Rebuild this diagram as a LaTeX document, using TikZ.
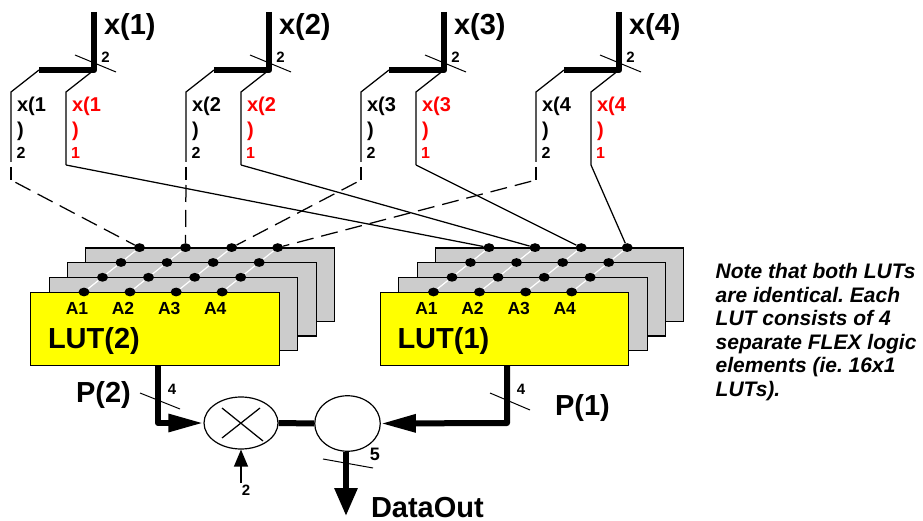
\documentclass[tikz,border=0pt]{standalone}
\usepackage{fontspec}
\setmainfont{Liberation Sans}
\usetikzlibrary{arrows.meta,shapes.geometric}
\definecolor{lutgrey}{HTML}{CCCCCC}
\definecolor{lutyellow}{HTML}{FFFF00}
\definecolor{sigred}{HTML}{FF0000}
\tikzset{
  thickbus/.style={line width=6.4pt,line join=round},
  wire/.style={line width=1.25pt,line join=miter},
  dashwire/.style={line width=1.25pt,dash pattern=on 17pt off 8pt,shorten <=5pt},
  tick/.style={line width=1pt},
  lbl/.style={inner sep=0pt,outer sep=0pt,font=\bfseries},
  big/.style={lbl,font=\fontsize{29}{29}\selectfont\bfseries},
  mid/.style={lbl,font=\fontsize{20}{25.5}\selectfont\bfseries,align=left,anchor=north west},
  small/.style={lbl,font=\fontsize{15}{15}\selectfont\bfseries},
  tiny/.style={lbl,font=\fontsize{16}{16}\selectfont\bfseries},
  addr/.style={lbl,font=\fontsize{17.5}{17.5}\selectfont\bfseries},
  dot/.style={ellipse,fill=black,minimum width=11pt,minimum height=8.8pt,inner sep=0pt},
  sheet/.style={draw=black,fill=lutgrey,line width=1.2pt},
  lut/.style={draw=black,fill=lutyellow,line width=1.2pt},
  op/.style={ellipse,draw=black,fill=white,line width=1.2pt,inner sep=0pt},
  bigtip/.style={-{Triangle[length=35pt,width=17pt]}},
}
\begin{document}
\frenchspacing
\begin{tikzpicture}[x=1pt,y=-1pt]
\useasboundingbox (0,0) rectangle (923,521);
% input buses
\foreach \i/\ox in {1/0,2/175,3/350,4/525}{
  \coordinate (top\i) at (94+\ox,12);
  \coordinate (cor\i) at (94+\ox,70);
  \coordinate (end\i) at (39+\ox,70);
  \coordinate (ta\i) at (75+\ox,55);
  \coordinate (tb\i) at (116+\ox,72);
  \draw[thickbus] (top\i) -- (cor\i) -- (end\i);
  \draw[tick] (ta\i) -- (tb\i);
  \node[big,anchor=west] (xn\i) at (104+\ox,27) {x(\i)};
  \node[small] (xw\i) at (105.5+\ox,57) {2};
  \coordinate (lb\i) at (11+\ox,92);
  \coordinate (lc\i) at (11+\ox,162);
  \coordinate (ld\i) at (11+\ox,167);
  \coordinate (le\i) at (11+\ox,180);
  \coordinate (rb\i) at (66+\ox,92);
  \coordinate (rc\i) at (66+\ox,165);
  \draw[wire] (end\i) -- (lb\i) -- (lc\i);
  \draw[wire] (ld\i) -- (le\i);
  \draw[wire] (cor\i) -- (rb\i) -- (rc\i);
  \node[mid] (ln\i) at (17+\ox,97) {x(\i\\)};
  \node[mid,text=sigred] (rn\i) at (72+\ox,97) {x(\i\\)};
  \node[tiny] (ls\i) at (21+\ox,153) {2};
  \node[tiny,text=sigred] (rs\i) at (75.5+\ox,153) {1};
}
% LUT stacks
\foreach \n/\ox/\t in {2/0/2,1/349.5/1}{
  \foreach \k/\dx/\dy in {3/55/44.2,2/37/29.5,1/18.5/14.7}{
    \node[sheet,anchor=north west,minimum width=248.5pt,minimum height=73.3pt,inner sep=0pt] (s\n\k) at (30+\ox+\dx,291.6-\dy) {};
  }
  \node[lut,anchor=north west,minimum width=248.5pt,minimum height=73.3pt,inner sep=0pt] (lut\n) at (30+\ox,291.6) {};
  \foreach \c/\cx in {1/84,2/130,3/176.2,4/222.2}{
    \draw[white,line width=1.2pt] (\cx+\ox,292) -- (\cx+\ox+55.5,247.6);
    \foreach \r/\dx/\dy in {0/0/0,1/18.5/14.7,2/37/29.5,3/55.5/44.4}{
      \node[dot] (d\n\c\r) at (\cx+\ox+\dx,292-\dy) {};
    }
    \node[addr] (a\n\c) at (\cx+\ox-7,308) {A\c};
  }
  \node[big,anchor=west] (ll\n) at (48+\ox,341) {LUT(\t)};
}
% dashed / solid routing
\draw[dashwire] (le1) -- (d213);
\draw[dashwire] (le2) -- (d223);
\draw[dashwire] (le3) -- (d233);
\draw[dashwire] (le4) -- (d243);
\draw[wire] (rc1) -- (d113);
\draw[wire] (rc2) -- (d123);
\draw[wire] (rc3) -- (d133);
\draw[wire] (rc4) -- (d143);
% operators
\node[op,minimum width=74pt,minimum height=52pt] (mul) at (241,423) {};
\node[op,minimum width=65.5pt,minimum height=55.5pt] (add) at (347.5,423.5) {};
\coordinate (m1) at (222,408); \coordinate (m2) at (263,441);
\coordinate (m3) at (222,438); \coordinate (m4) at (260,408);
\draw[wire] (m1) -- (m2);
\draw[wire] (m3) -- (m4);
% P(2) and P(1)
\coordinate (pl) at (158,423);
\coordinate (pr) at (507,423);
\draw[line width=6pt,line join=round,bigtip] (lut2.south -| pl) -- (pl) -- (mul.west);
\draw[line width=6pt,line join=round,bigtip] (lut1.south -| pr) -- (pr) -- (add.east);
\draw[line width=6pt] (mul.east) -- (add.west);
\coordinate (t1a) at (140,393); \coordinate (t1b) at (180,409);
\coordinate (t2a) at (490,393); \coordinate (t2b) at (530,410);
\draw[tick] (t1a) -- (t1b);
\draw[tick] (t2a) -- (t2b);
\node[small] (w1) at (172,389) {4};
\node[small] (w2) at (521,389) {4};
\node[big,anchor=west] (p2) at (76,395) {P(2)};
\node[big,anchor=west] (p1) at (555,408) {P(1)};
% output
\coordinate (out) at (346,516);
\draw[line width=6pt,-{Triangle[length=28pt,width=22pt]}] (add.south -| out) -- (out);
\coordinate (t3a) at (323,459); \coordinate (t3b) at (373,468);
\draw[tick] (t3a) -- (t3b);
\node[lbl,font=\fontsize{18}{18}\selectfont\bfseries] (w3) at (375,454) {5};
\node[big,anchor=west] (dout) at (371,507.5) {DataOut};
% scaling input
\node[small] (s2) at (246,490) {2};
\coordinate (si) at (241,483);
\draw[wire,-{Triangle[length=17pt,width=14pt]}] (si) -- (mul.south);
% note
\node[anchor=north west,inner sep=0pt,align=left,font=\fontsize{21}{23.6}\selectfont\bfseries\itshape] (note) at (715.5,263)
 {Note that both LUTs\\are identical. Each\\LUT consists of 4\\separate FLEX logic\\elements (ie. 16x1\\LUTs).};
\end{tikzpicture}
\end{document}
